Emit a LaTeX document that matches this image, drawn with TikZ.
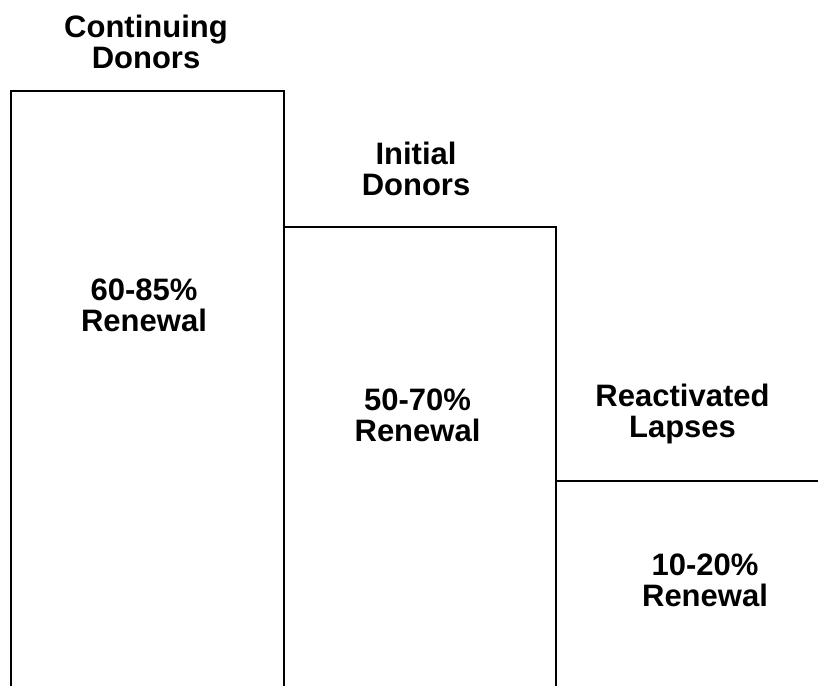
\documentclass[tikz,border=0pt]{standalone}
\usepackage{fontspec}
\setmainfont{Liberation Sans}
\begin{document}
\begin{tikzpicture}[x=1pt, y=-1pt, line width=2pt,
    label/.style={align=center, inner sep=0pt, font=\fontsize{31}{31}\selectfont\bfseries}]
                \useasboundingbox (0,0) rectangle (818,686);
                % bars, open at the bottom
                \coordinate (c1) at (11,91);
                \coordinate (c2) at (284,91);
                \coordinate (i1) at (284,227);
                \coordinate (i2) at (556,227);
                \coordinate (r1) at (556,481);
                \coordinate (r2) at (818,481);
                \draw (11,686) -- (c1) -- (c2) -- (284,686);
                \draw (i1) -- (i2) -- (556,686);
                \draw (r1) -- (r2);
                % labels
                \node[label] (cont) at (146,41.5) {Continuing\\Donors};
                \node[label] (init) at (416,168.5) {Initial\\Donors};
                \node[label] (react) at (682.5,414) {Reactivated\\Lapses};
                \node[label] (contrate) at (144,305) {60-85\%\\Renewal};
                \node[label] (initrate) at (417.5,415) {50-70\%\\Renewal};
                \node[label] (reactrate) at (705,580.5) {10-20\%\\Renewal};
            \end{tikzpicture}
\end{document}
